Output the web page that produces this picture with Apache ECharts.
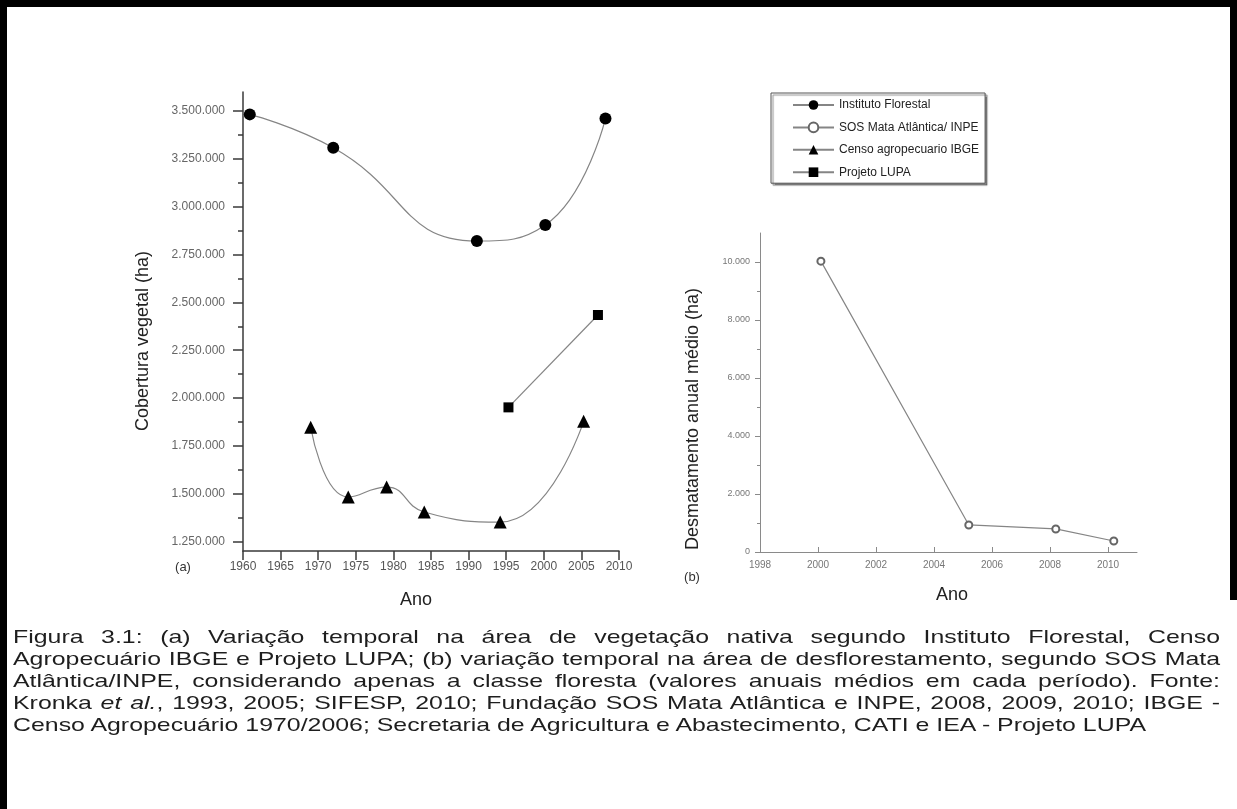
<!DOCTYPE html>
<html>
<head>
<meta charset="utf-8">
<script src="https://cdn.jsdelivr.net/npm/echarts@6/dist/echarts.min.js"></script>
<style>
html,body{margin:0;padding:0;background:#fff;}
#wrap{position:relative;width:1237px;height:809px;overflow:hidden;background:#fff;}
#chart{position:absolute;left:0;top:0;width:1237px;height:809px;}
.bar{position:absolute;background:#000;}
#caption{position:absolute;left:13px;top:626px;transform-origin:0 0;
  font-family:'Liberation Sans',Arial,sans-serif;font-size:19px;line-height:22px;color:#1e1e1e;}
#caption .ln{white-space:nowrap;}
#caption.just .ln{text-align:justify;text-align-last:justify;}
#caption.just .ln.last{text-align-last:left;}
</style>
</head>
<body>
<div id="wrap">
  <div id="chart"></div>
  <div class="bar" style="left:0;top:0;width:1237px;height:7px"></div>
  <div class="bar" style="left:0;top:0;width:7px;height:809px"></div>
  <div class="bar" style="left:1230px;top:0;width:7px;height:600px"></div>
  <div id="caption">
    <div class="ln"><span>Figura 3.1: (a) Variação temporal na área de vegetação nativa segundo Instituto Florestal, Censo</span></div>
    <div class="ln"><span>Agropecuário IBGE e Projeto LUPA; (b) variação temporal na área de desflorestamento, segundo SOS Mata</span></div>
    <div class="ln"><span>Atlântica/INPE, considerando apenas a classe floresta (valores anuais médios em cada período). Fonte:</span></div>
    <div class="ln"><span>Kronka <i>et al.</i>, 1993, 2005; SIFESP, 2010; Fundação SOS Mata Atlântica e INPE, 2008, 2009, 2010; IBGE -</span></div>
    <div class="ln last"><span>Censo Agropecuário 1970/2006; Secretaria de Agricultura e Abastecimento, CATI e IEA - Projeto LUPA</span></div>
  </div>
</div>
<script>
// (a) cobertura vegetal (ha) por ano
var yearsIF = [1960.9, 1972.0, 1991.1, 2000.2, 2008.2];
var coverIF = [3483000, 3308000, 2821000, 2905000, 3462000];
var yearsIBGE = [1969.0, 1974.0, 1979.1, 1984.1, 1994.2, 2005.3];
var coverIBGE = [1847000, 1482000, 1534000, 1404000, 1351000, 1878000];
var yearsLUPA = [1995.3, 2007.2];
var coverLUPA = [1951000, 2434000];
// (b) desmatamento anual medio (ha)
var yearsSOS = [2000.1, 2005.2, 2008.2, 2010.2];
var deforestSOS = [10030, 933, 795, 380];

// ticks
var coverTicks = [1250000, 1500000, 1750000, 2000000, 2250000, 2500000, 2750000, 3000000, 3250000, 3500000];
var coverMinorTicks = [1375000, 1625000, 1875000, 2125000, 2375000, 2625000, 2875000, 3125000, 3375000];
var yearTicksB = [1998, 2000, 2002, 2004, 2006, 2008, 2010];
var deforestTicks = [0, 2000, 4000, 6000, 8000, 10000];
var deforestMinorTicks = [1000, 3000, 5000, 7000, 9000];

var FONT = "'Liberation Sans', Arial, sans-serif";

function pairs(xs, ys) {
    var out = [];
    for (var i = 0; i < xs.length; i++) out.push([xs[i], ys[i]]);
    return out;
}
//milhar com ponto
function fmt(v) {
    return String(Math.round(v)).replace(/\B(?=(\d{3})+(?!\d))/g, '.');
}
function plain(v) {
    return String(v);
}

var axisA = '#3a3a3a', axisB = '#8a8a8a', curve = '#858585';

var myChart = echarts.init(document.getElementById('chart'), null, {renderer: 'canvas'});
var option = {
    animation: false,
    grid: [
        {left: 243, top: 92, right: 618, bottom: 258, outerBoundsMode: 'none'},
        {left: 760, top: 233, right: 100, bottom: 257, outerBoundsMode: 'none'}
    ],
    legend: {
        orient: 'vertical',
        left: 771, top: 93,
        padding: [6, 6, 5, 21],
        itemWidth: 41, itemHeight: 12, itemGap: 10.4,
        selectedMode: false,
        backgroundColor: '#fff',
        borderColor: '#555', borderWidth: 1,
        shadowColor: 'rgba(0,0,0,0.45)', shadowOffsetX: 2, shadowOffsetY: 2, shadowBlur: 1,
        textStyle: {fontFamily: FONT, fontSize: 12, color: '#222'},
        data: ['Instituto Florestal', 'SOS Mata Atlântica/ INPE', 'Censo agropecuario IBGE', 'Projeto LUPA']
    },
    xAxis: [
        {
            gridIndex: 0, type: 'value', min: 1960, max: 2010, interval: 5,
            axisLine: {show: true, lineStyle: {color: axisA, width: 1.5}},
            axisTick: {show: true, length: 9, lineStyle: {color: axisA, width: 1.5}},
            axisLabel: {formatter: plain, fontFamily: FONT, fontSize: 12, color: '#555', margin: 10},
            splitLine: {show: false}
        },
        {
            gridIndex: 1, type: 'value', min: 1998, max: 2011,
            axisLine: {show: true, lineStyle: {color: axisB, width: 1}},
            axisTick: {show: true, inside: true, length: 5, customValues: yearTicksB, lineStyle: {color: axisB}},
            axisLabel: {customValues: yearTicksB, formatter: plain, fontFamily: FONT, fontSize: 10, color: '#777', margin: 8},
            splitLine: {show: false}
        }
    ],
    yAxis: [
        {
            gridIndex: 0, type: 'value', position: 'left', min: 1200000, max: 3600000,
            axisLine: {show: true, lineStyle: {color: axisA, width: 1.5}},
            axisTick: {show: true, length: 10, customValues: coverTicks, lineStyle: {color: axisA, width: 1.5}},
            axisLabel: {customValues: coverTicks, formatter: fmt, fontFamily: FONT, fontSize: 12, color: '#666', margin: 18},
            splitLine: {show: false}
        },
        {
            gridIndex: 0, type: 'value', position: 'left', offset: 0, min: 1200000, max: 3600000,
            axisLine: {show: false},
            axisTick: {show: true, length: 5, customValues: coverMinorTicks, lineStyle: {color: axisA, width: 1.5}},
            axisLabel: {show: false},
            splitLine: {show: false}
        },
        {
            gridIndex: 1, type: 'value', position: 'left', min: 0, max: 11000,
            axisLine: {show: true, lineStyle: {color: axisB, width: 1}},
            axisTick: {show: true, length: 5, customValues: deforestTicks, lineStyle: {color: axisB}},
            axisLabel: {customValues: deforestTicks, formatter: fmt, fontFamily: FONT, fontSize: 9, color: '#777', margin: 10},
            splitLine: {show: false}
        },
        {
            gridIndex: 1, type: 'value', position: 'left', offset: 0, min: 0, max: 11000,
            axisLine: {show: false},
            axisTick: {show: true, length: 3, customValues: deforestMinorTicks, lineStyle: {color: axisB}},
            axisLabel: {show: false},
            splitLine: {show: false}
        }
    ],
    series: [
        {
            name: 'Instituto Florestal', type: 'line', xAxisIndex: 0, yAxisIndex: 0,
            data: pairs(yearsIF, coverIF), smooth: 0.5,
            symbol: 'circle', symbolSize: 12,
            itemStyle: {color: '#000'},
            lineStyle: {color: curve, width: 1.2}
        },
        {
            name: 'SOS Mata Atlântica/ INPE', type: 'line', xAxisIndex: 1, yAxisIndex: 2,
            data: pairs(yearsSOS, deforestSOS),
            symbol: 'emptyCircle', symbolSize: 7,
            itemStyle: {color: '#666', borderWidth: 1},
            lineStyle: {color: curve, width: 1.2}
        },
        {
            name: 'Censo agropecuario IBGE', type: 'line', xAxisIndex: 0, yAxisIndex: 0,
            data: pairs(yearsIBGE, coverIBGE), smooth: 0.5,
            symbol: 'triangle', symbolSize: 13,
            itemStyle: {color: '#000'},
            lineStyle: {color: curve, width: 1.2}
        },
        {
            name: 'Projeto LUPA', type: 'line', xAxisIndex: 0, yAxisIndex: 0,
            data: pairs(yearsLUPA, coverLUPA),
            symbol: 'rect', symbolSize: 10,
            itemStyle: {color: '#000'},
            lineStyle: {color: curve, width: 1.2}
        }
    ],
    graphic: [
        {type: 'text', x: 143, y: 341, rotation: Math.PI / 2,
            style: {text: 'Cobertura vegetal (ha)', font: '18px ' + FONT, fill: '#222', textAlign: 'center', textVerticalAlign: 'middle'}},
        {type: 'text', x: 416, y: 600,
            style: {text: 'Ano', font: '18px ' + FONT, fill: '#222', textAlign: 'center', textVerticalAlign: 'middle'}},
        {type: 'text', x: 183, y: 567,
            style: {text: '(a)', font: '13px ' + FONT, fill: '#333', textAlign: 'center', textVerticalAlign: 'middle'}},
        {type: 'text', x: 693, y: 419, rotation: Math.PI / 2,
            style: {text: 'Desmatamento anual médio (ha)', font: '18px ' + FONT, fill: '#222', textAlign: 'center', textVerticalAlign: 'middle'}},
        {type: 'text', x: 952, y: 595,
            style: {text: 'Ano', font: '18px ' + FONT, fill: '#222', textAlign: 'center', textVerticalAlign: 'middle'}},
        {type: 'text', x: 692, y: 577,
            style: {text: '(b)', font: '13px ' + FONT, fill: '#333', textAlign: 'center', textVerticalAlign: 'middle'}}
    ]
};
myChart.setOption(option);

//legenda da figura: escala horizontal
(function () {
    var cap = document.getElementById('caption');
    var spans = cap.querySelectorAll('.ln span');
    var maxW = 0, lastW = 0;
    for (var i = 0; i < spans.length; i++) {
        var w = spans[i].getBoundingClientRect().width;
        if (i < spans.length - 1) maxW = Math.max(maxW, w); else lastW = w;
    }
    var fullW = 1207, lastTarget = 1133;
    var s = Math.min(lastTarget / lastW, fullW / maxW);
    cap.style.width = (fullW / s) + 'px';
    cap.style.transform = 'scaleX(' + s + ')';
    cap.className = 'just';
})();
</script>
</body>
</html>
